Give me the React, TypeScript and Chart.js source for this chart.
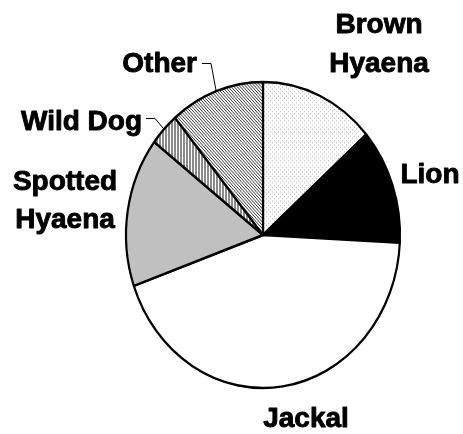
import React, { useEffect, useRef } from "react";
import { Chart, registerables } from "chart.js";

Chart.register(...registerables);

// ---- Data ----
const categories = ["Brown Hyaena", "Lion", "Jackal", "Spotted Hyaena", "Wild Dog", "Other"];
const shares = [13.6, 12.2, 43.8, 15.8, 3.5, 11.1];
// label text lines per category
const labelLines = [["Brown", "Hyaena"], ["Lion"], ["Jackal"], ["Spotted", "Hyaena"], ["Wild Dog"], ["Other"]];

// ---- Layout / style ----
const W = 463;
const H = 434;
const RADIUS = 137;
const STRETCH_Y = 153 / 137;
const FONT = "bold 28px 'Liberation Sans', Arial, Helvetica, sans-serif";
// label placement: x, first baseline, align, line gap, leader (text-end anchor)
const labelLayout = [
  { x: 379, y: 33, align: "center", gap: 39, leader: null },
  { x: 430, y: 183, align: "center", gap: 39, leader: null },
  { x: 306, y: 427, align: "center", gap: 39, leader: null },
  { x: 65, y: 190, align: "center", gap: 38, leader: null },
  { x: 142, y: 130, align: "right", gap: 39, leader: { x0: 146, y0: 118, x1: 155 } },
  { x: 197, y: 72, align: "right", gap: 39, leader: { x0: 202, y0: 63, x1: 211 } },
];

function makePattern(size: number, draw: (c: CanvasRenderingContext2D) => void) {
  const cv = document.createElement("canvas");
  cv.width = size;
  cv.height = size;
  const c = cv.getContext("2d")!;
  draw(c);
  const tmp = document.createElement("canvas").getContext("2d")!;
  return tmp.createPattern(cv, "repeat")!;
}

export default function App() {
  const ref = useRef<HTMLCanvasElement | null>(null);

  useEffect(() => {
    document.body.style.margin = "0";
    const canvas = ref.current!;

    const dots = makePattern(4, (c) => {
      c.fillStyle = "#ffffff";
      c.fillRect(0, 0, 4, 4);
      c.fillStyle = "#bdbdbd";
      c.fillRect(0, 0, 1, 1);
      c.fillRect(2, 2, 1, 1);
    });
    const stripes = makePattern(3, (c) => {
      c.fillStyle = "#ffffff";
      c.fillRect(0, 0, 3, 3);
      c.fillStyle = "#8a8a8a";
      c.fillRect(0, 0, 2, 3);
    });
    const hatch = makePattern(3, (c) => {
      c.fillStyle = "#ffffff";
      c.fillRect(0, 0, 3, 3);
      c.fillStyle = "#3a3a3a";
      for (let y = 0; y < 3; y++) {
        for (let x = 0; x < 3; x++) {
          const m = (((x - y) % 3) + 3) % 3;
          if (m === 0) c.fillRect(x, y, 1, 1);
        }
      }
    });

    const fills = [dots, "#000000", "#ffffff", "#c0c0c0", stripes, hatch];

    const stretchPlugin = {
      id: "stretch",
      beforeDatasetsDraw(chart: any) {
        const arc = chart.getDatasetMeta(0).data[0];
        const ctx = chart.ctx;
        ctx.save();
        ctx.translate(arc.x, arc.y);
        ctx.scale(1, STRETCH_Y);
        ctx.translate(-arc.x, -arc.y);
      },
      afterDatasetsDraw(chart: any) {
        chart.ctx.restore();
      },
    };

    const labelPlugin = {
      id: "labels",
      afterDraw(chart: any) {
        const ctx: CanvasRenderingContext2D = chart.ctx;
        const arcs = chart.getDatasetMeta(0).data;
        ctx.save();
        ctx.font = FONT;
        ctx.fillStyle = "#000000";
        ctx.strokeStyle = "#000000";
        ctx.lineJoin = "round";
        ctx.textBaseline = "alphabetic";
        labelLines.forEach((lines, i) => {
          const L = labelLayout[i];
          ctx.textAlign = L.align as CanvasTextAlign;
          lines.forEach((t, k) => {
            ctx.lineWidth = 0.9;
            ctx.fillText(t, L.x, L.y + k * L.gap);
            ctx.strokeText(t, L.x, L.y + k * L.gap);
          });
          if (L.leader) {
            const a = arcs[i];
            const mid = (a.startAngle + a.endAngle) / 2;
            const px = a.x + a.outerRadius * Math.cos(mid);
            const py = a.y + a.outerRadius * STRETCH_Y * Math.sin(mid);
            ctx.beginPath();
            ctx.lineWidth = 1;
            ctx.moveTo(L.leader.x0, L.leader.y0 + 0.5);
            ctx.lineTo(L.leader.x1, L.leader.y0 + 0.5);
            ctx.lineTo(px, py);
            ctx.stroke();
          }
        });
        ctx.restore();
      },
    };

    const chart = new Chart(canvas, {
      type: "pie",
      data: {
        labels: categories,
        datasets: [
          {
            data: shares,
            backgroundColor: fills as any,
            borderColor: "#000000",
            borderWidth: 2.2,
            hoverOffset: 0,
          },
        ],
      },
      options: {
        responsive: false,
        animation: false,
        radius: RADIUS,
        layout: { padding: { left: 63, top: 36, right: 0, bottom: 0 } },
        plugins: {
          legend: { display: false },
          tooltip: { enabled: false },
        },
        events: [],
      } as any,
      plugins: [stretchPlugin, labelPlugin],
    });

    return () => chart.destroy();
  }, []);

  return (
    <div style={{ width: W, height: H }}>
      <canvas ref={ref} width={W} height={H} style={{ display: "block" }} />
    </div>
  );
}
